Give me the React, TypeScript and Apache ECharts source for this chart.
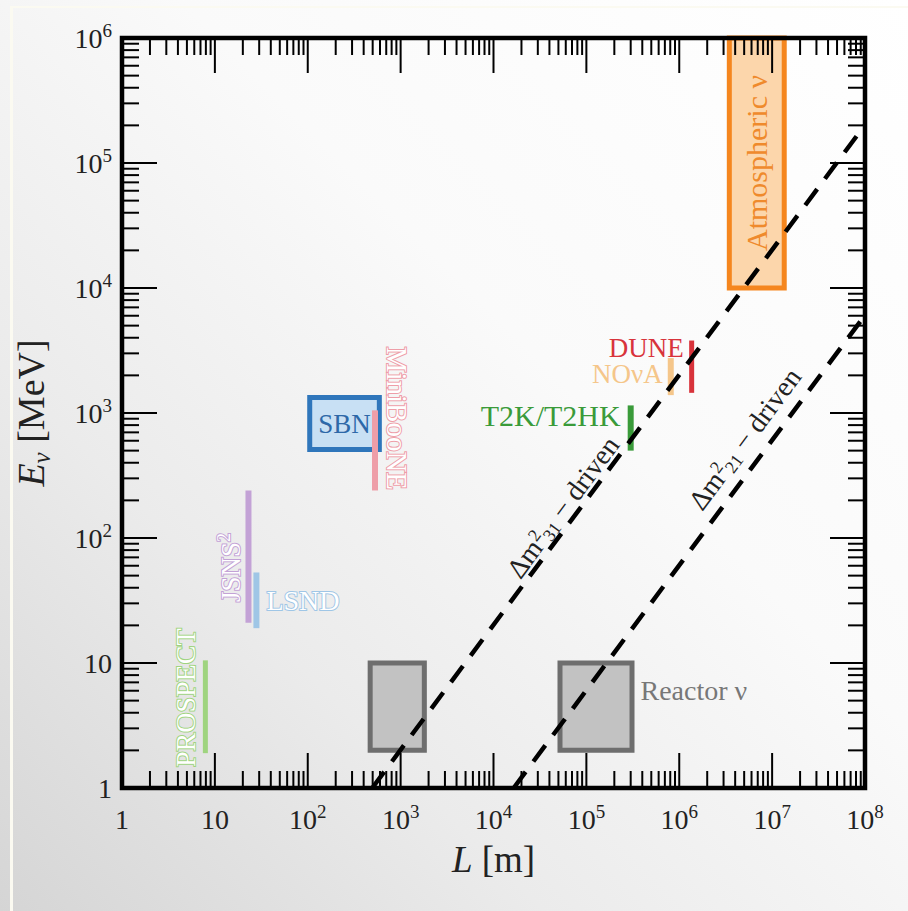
import { useEffect, useRef } from "react";
import * as echarts from "echarts";

// Axis tick labels (one per decade)
const xTickLabels = ["1", "10", "10²", "10³", "10⁴", "10⁵", "10⁶", "10⁷", "10⁸"];
const yTickLabels = ["1", "10", "10²", "10³", "10⁴", "10⁵", "10⁶"];

// Single-baseline experiments: baseline L [m] and energy range E [MeV]
const barNames = ["PROSPECT", "JSNS²", "LSND", "MiniBooNE", "T2K/T2HK", "NOνA", "DUNE"];
const barBaseline = [7.9, 23, 28, 530, 300000, 810000, 1360000];
const barEmin = [1.9, 21, 19, 240, 500, 1390, 1450];
const barEmax = [10.5, 240, 53, 1050, 1150, 2750, 3800];

// Experiments spanning a range of baselines and energies
const boxNames = ["SBN", "", "Reactor ν", "Atmospheric ν"];
const boxLmin = [105, 470, 52000, 3460000];
const boxLmax = [590, 1800, 310000, 13500000];
const boxEmin = [510, 2, 2, 10000];
const boxEmax = [1330, 10, 10, 1000000];

// First oscillation maximum, E = L / (L/E)
const line31 = [
  [495, 1],
  [1e8, 202000],
];
const line21 = [
  [16500, 1],
  [1e8, 6060],
];
const lineLabels = ["Δm²₃₁ − driven", "Δm²₂₁ − driven"];
const lineLabelAt = [
  [55800, 177],
  [5080000, 620],
];

// ---- styles ----
const SERIF = "'Liberation Serif', 'DejaVu Serif', serif";
const TEXT = "#222";
const barColors = ["#9fd47f", "#c3a2d6", "#9fc6e6", "#ee9ea8", "#3a9b3a", "#f5c68a", "#d8333b"];
const barWidths = [5, 6, 6, 6, 6, 6, 5];
// label layout relative to each bar: anchor at bar top or middle, pixel offsets
const barLabelLayout = [
  { anchor: "mid", dx: -20, dy: -9, rot: 90, align: "center", outline: true, size: 28 },
  { anchor: "mid", dx: -17, dy: 11, rot: 90, align: "center", outline: true, size: 27 },
  { anchor: "mid", dx: 10, dy: 0, rot: 0, align: "left", outline: true, size: 28 },
  { anchor: "top", dx: 22, dy: 8, rot: -90, align: "center", outline: true, size: 29 },
  { anchor: "top", dx: -10, dy: 10, rot: 0, align: "right", outline: false, size: 30 },
  { anchor: "top", dx: -8, dy: 16, rot: 0, align: "right", outline: false, size: 27 },
  { anchor: "top", dx: -8, dy: 7, rot: 0, align: "right", outline: false, size: 27 },
];
const boxStroke = ["#2f76bb", "#6e6e6e", "#6e6e6e", "#f5861e"];
const boxFill = ["#c8e0f4", "#c2c2c2", "#c2c2c2", "#fcd6ab"];
const boxText = ["#2d68a8", "#777777", "#777777", "#ef8a2c"];
const boxLabelLayout = [
  { place: "center", dx: 0, dy: 0, rot: 0, size: 27 },
  { place: "center", dx: 0, dy: 0, rot: 0, size: 25 },
  { place: "right", dx: 6, dy: -16, rot: 0, size: 28 },
  { place: "center", dx: 0, dy: 0, rot: 90, size: 30 },
];

// superscript / subscript digits are drawn as raised / lowered rich-text runs
const SUP: Record<string, string> = { "⁰": "0", "¹": "1", "²": "2", "³": "3", "⁴": "4", "⁵": "5", "⁶": "6", "⁷": "7", "⁸": "8", "⁹": "9" };
const SUB: Record<string, string> = { "₀": "0", "₁": "1", "₂": "2", "₃": "3", "₄": "4", "₅": "5", "₆": "6", "₇": "7", "₈": "8", "₉": "9" };
function toRich(s: string): string {
  let out = "";
  let mode = "";
  let buf = "";
  const flush = () => {
    if (!buf) return;
    out += mode ? `{${mode}|${buf}}` : buf;
    buf = "";
  };
  for (const ch of s) {
    const m = SUP[ch] ? "sup" : SUB[ch] ? "sub" : "";
    if (m !== mode) {
      flush();
      mode = m;
    }
    buf += m === "sup" ? SUP[ch] : m === "sub" ? SUB[ch] : ch;
  }
  flush();
  return out;
}
function scriptRich(size: number) {
  const small = Math.round(size * 0.68);
  return {
    sup: { fontFamily: SERIF, fontSize: small, lineHeight: small + 2, verticalAlign: "top" },
    sub: { fontFamily: SERIF, fontSize: small, lineHeight: small + 2, verticalAlign: "bottom" },
  };
}

const steps = [1, 2, 3, 4, 5, 6, 7, 8, 9];
function decadeTicks(decades: number) {
  const out: number[][] = [];
  for (let k = 0; k < decades; k++) {
    for (const m of steps) {
      if (k === 0 && m === 1) continue;
      out.push([m * Math.pow(10, k), m === 1 ? 1 : 0]);
    }
  }
  return out;
}

function buildOption(): echarts.EChartsCoreOption {
  const xTicks = decadeTicks(8).map((t) => [t[0], 1, t[1]]);
  const yTicks = decadeTicks(6).map((t) => [1, t[0], t[1]]);
  const bars = barBaseline.map((L, i) => [L, barEmin[i], barEmax[i], i]);
  const boxes = boxLmin.map((l, i) => [l, boxLmax[i], boxEmin[i], boxEmax[i], i]);
  const lines = [line31, line21];
  const tickRich = {
    sup: { fontFamily: SERIF, fontSize: 19, lineHeight: 20, verticalAlign: "top", color: TEXT },
  };

  return {
    animation: false,
    backgroundColor: "transparent",
    grid: { left: 122, right: 43, top: 38, bottom: 123, show: false, outerBoundsMode: "none", containLabel: false },
    xAxis: {
      type: "log",
      logBase: 10,
      min: 1,
      max: 1e8,
      splitNumber: 8,
      axisLine: { show: false },
      axisTick: { show: false },
      splitLine: { show: false },
      axisLabel: {
        margin: 14,
        fontFamily: SERIF,
        fontSize: 28,
        lineHeight: 34,
        color: TEXT,
        rich: tickRich,
        formatter: (v: number) => toRich(xTickLabels[Math.round(Math.log10(v))] ?? ""),
      },
      name: "{i|L} [m]",
      nameLocation: "middle",
      nameGap: 52,
      nameTextStyle: {
        fontFamily: SERIF,
        fontSize: 37,
        color: TEXT,
        rich: { i: { fontFamily: SERIF, fontSize: 37, fontStyle: "italic", color: TEXT } },
      },
    },
    yAxis: {
      type: "log",
      logBase: 10,
      min: 1,
      max: 1e6,
      splitNumber: 6,
      axisLine: { show: false },
      axisTick: { show: false },
      splitLine: { show: false },
      axisLabel: {
        margin: 10,
        fontFamily: SERIF,
        fontSize: 28,
        lineHeight: 34,
        color: TEXT,
        rich: tickRich,
        formatter: (v: number) => toRich(yTickLabels[Math.round(Math.log10(v))] ?? ""),
      },
      name: "{i|E}{sub|ν} [MeV]",
      nameLocation: "middle",
      nameRotate: 90,
      nameGap: 68,
      nameTextStyle: {
        fontFamily: SERIF,
        fontSize: 38,
        lineHeight: 46,
        color: TEXT,
        rich: {
          i: { fontFamily: SERIF, fontSize: 38, lineHeight: 46, fontStyle: "italic", color: TEXT },
          sub: {
            fontFamily: SERIF,
            fontSize: 25,
            lineHeight: 26,
            fontStyle: "italic",
            verticalAlign: "bottom",
            color: TEXT,
          },
        },
      },
    },
    series: [
      // boxes
      {
        type: "custom",
        z: 2,
        coordinateSystem: "cartesian2d",
        encode: { x: [0, 1], y: [2, 3] },
        data: boxes,
        renderItem: (_p: any, api: any) => {
          const i = api.value(4);
          const a = api.coord([api.value(0), api.value(3)]);
          const b = api.coord([api.value(1), api.value(2)]);
          const lay = boxLabelLayout[i];
          const children: any[] = [
            {
              type: "rect",
              shape: { x: a[0], y: a[1], width: b[0] - a[0], height: b[1] - a[1] },
              style: { fill: boxFill[i], stroke: boxStroke[i], lineWidth: 5 },
            },
          ];
          if (boxNames[i]) {
            const cx = lay.place === "center" ? (a[0] + b[0]) / 2 : b[0] + 2.5;
            const cy = (a[1] + b[1]) / 2;
            children.push({
              type: "text",
              x: cx + lay.dx,
              y: cy + lay.dy,
              rotation: (lay.rot * Math.PI) / 180,
              style: {
                text: boxNames[i],
                fill: boxText[i],
                fontFamily: SERIF,
                fontSize: lay.size,
                align: lay.place === "center" ? "center" : "left",
                verticalAlign: "middle",
              },
            });
          }
          return { type: "group", children };
        },
      },
      // single-baseline bars
      {
        type: "custom",
        z: 3,
        coordinateSystem: "cartesian2d",
        encode: { x: 0, y: [1, 2] },
        data: bars,
        renderItem: (_p: any, api: any) => {
          const i = api.value(3);
          const lo = api.coord([api.value(0), api.value(1)]);
          const hi = api.coord([api.value(0), api.value(2)]);
          const lay = barLabelLayout[i];
          const ay = lay.anchor === "top" ? hi[1] : (lo[1] + hi[1]) / 2;
          return {
            type: "group",
            children: [
              {
                type: "line",
                shape: { x1: lo[0], y1: lo[1], x2: hi[0], y2: hi[1] },
                style: { stroke: barColors[i], lineWidth: barWidths[i], lineCap: "butt" },
              },
              {
                type: "text",
                x: lo[0] + lay.dx,
                y: ay + lay.dy,
                rotation: (lay.rot * Math.PI) / 180,
                style: {
                  text: toRich(barNames[i]),
                  fill: lay.outline ? "#ffffff" : barColors[i],
                  stroke: lay.outline ? barColors[i] : undefined,
                  lineWidth: lay.outline ? 2 : 0,
                  fontFamily: SERIF,
                  fontSize: lay.size,
                  lineHeight: lay.size + 6,
                  align: lay.align,
                  verticalAlign: "middle",
                  rich: scriptRich(lay.size),
                },
              },
            ],
          };
        },
      },
      // oscillation lines
      ...lines.map((d) => ({
        type: "line",
        z: 4,
        data: d,
        showSymbol: false,
        symbol: "none",
        silent: true,
        lineStyle: { color: "#000", width: 4.5, type: [20, 13], cap: "butt" },
      })),
      // oscillation line captions, rotated along each line
      {
        type: "custom",
        z: 4,
        coordinateSystem: "cartesian2d",
        encode: { x: 0, y: 1 },
        data: lineLabelAt.map((p, i) => [p[0], p[1], i]),
        renderItem: (_p: any, api: any) => {
          const i = api.value(2);
          const p = api.coord([api.value(0), api.value(1)]);
          const a = api.coord(lines[i][0]);
          const b = api.coord(lines[i][1]);
          const rot = Math.atan2(-(b[1] - a[1]), b[0] - a[0]);
          return {
            type: "text",
            x: p[0],
            y: p[1],
            rotation: rot,
            style: {
              text: toRich(lineLabels[i]),
              fill: TEXT,
              fontFamily: SERIF,
              fontSize: 28,
              lineHeight: 30,
              align: "center",
              verticalAlign: "middle",
              rich: {
                sup: { fontFamily: SERIF, fontSize: 18, lineHeight: 19, verticalAlign: "top" },
                sub: { fontFamily: SERIF, fontSize: 18, lineHeight: 19, verticalAlign: "bottom" },
              },
            },
          };
        },
      },
      // x ticks, mirrored on top and bottom
      {
        type: "custom",
        z: 5,
        coordinateSystem: "cartesian2d",
        encode: { x: 0, y: 1 },
        data: xTicks,
        silent: true,
        renderItem: (params: any, api: any) => {
          const cs = params.coordSys;
          const px = api.coord([api.value(0), 1])[0];
          const len = api.value(2) ? 35 : 17;
          const st = { stroke: "#000", lineWidth: 2 };
          return {
            type: "group",
            children: [
              { type: "line", shape: { x1: px, y1: cs.y + cs.height, x2: px, y2: cs.y + cs.height - len }, style: st },
              { type: "line", shape: { x1: px, y1: cs.y, x2: px, y2: cs.y + len }, style: st },
            ],
          };
        },
      },
      // y ticks, mirrored on left and right
      {
        type: "custom",
        z: 5,
        coordinateSystem: "cartesian2d",
        encode: { x: 0, y: 1 },
        data: yTicks,
        silent: true,
        renderItem: (params: any, api: any) => {
          const cs = params.coordSys;
          const py = api.coord([1, api.value(1)])[1];
          const len = api.value(2) ? 35 : 17;
          const st = { stroke: "#000", lineWidth: 2 };
          return {
            type: "group",
            children: [
              { type: "line", shape: { x1: cs.x, y1: py, x2: cs.x + len, y2: py }, style: st },
              { type: "line", shape: { x1: cs.x + cs.width, y1: py, x2: cs.x + cs.width - len, y2: py }, style: st },
            ],
          };
        },
      },
      // plot frame
      {
        type: "custom",
        z: 6,
        coordinateSystem: "cartesian2d",
        encode: { x: 0, y: 1 },
        data: [[1, 1]],
        silent: true,
        renderItem: (params: any) => {
          const cs = params.coordSys;
          return {
            type: "rect",
            shape: { x: cs.x, y: cs.y, width: cs.width, height: cs.height },
            style: { fill: "none", stroke: "#000", lineWidth: 4.5 },
          };
        },
      },
    ],
  };
}

export default function App() {
  const ref = useRef<HTMLDivElement>(null);
  useEffect(() => {
    if (!ref.current) return;
    const chart = echarts.init(ref.current, undefined, { renderer: "svg" });
    chart.setOption(buildOption());
    return () => chart.dispose();
  }, []);
  return (
    <div
      style={{
        position: "fixed",
        left: 0,
        top: 0,
        width: 908,
        height: 911,
        background:
          "linear-gradient(to top right, #d5d5d5 0%, #ebebeb 30%, #fafafa 60%, #ffffff 100%)",
        overflow: "hidden",
      }}
    >
      <div
        style={{
          position: "absolute",
          left: 10,
          top: 6,
          width: 900,
          height: 910,
          borderLeft: "3px solid #fbfaf1",
          borderTop: "2px solid #fbfaf1",
        }}
      />
      <div ref={ref} style={{ position: "absolute", left: 0, top: 0, width: 908, height: 911 }} />
    </div>
  );
}
